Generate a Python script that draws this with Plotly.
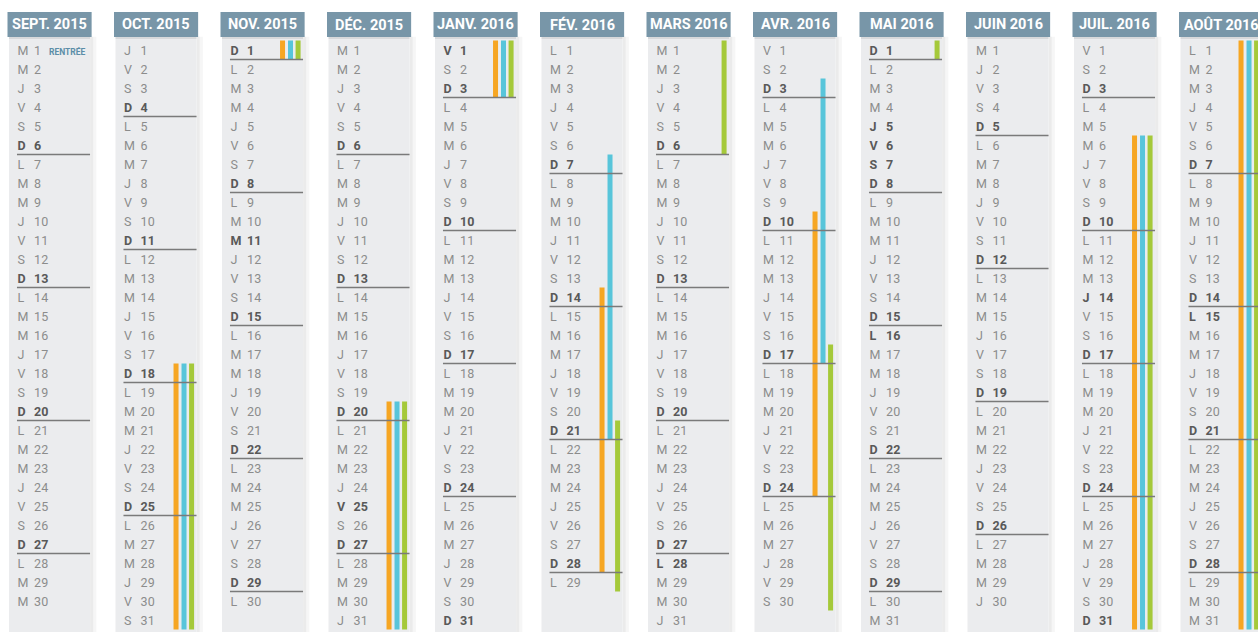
import plotly.graph_objects as go

# ---------------- data ----------------
months = ["SEPT. 2015", "OCT. 2015", "NOV. 2015", "DÉC. 2015", "JANV. 2016", "FÉV. 2016",
          "MARS 2016", "AVR. 2016", "MAI 2016", "JUIN 2016", "JUIL. 2016", "AOÛT 2016"]

weekday_letters = [
    "MMJVSDLMMJVSDLMMJVSDLMMJVSDLMM",   # sept 2015
    "JVSDLMMJVSDLMMJVSDLMMJVSDLMMJVS",  # oct
    "DLMMJVSDLMMJVSDLMMJVSDLMMJVSDL",   # nov
    "MMJVSDLMMJVSDLMMJVSDLMMJVSDLMMJ",  # dec
    "VSDLMMJVSDLMMJVSDLMMJVSDLMMJVSD",  # jan 2016
    "LMMJVSDLMMJVSDLMMJVSDLMMJVSDL",    # feb
    "MMJVSDLMMJVSDLMMJVSDLMMJVSDLMMJ",  # mar
    "VSDLMMJVSDLMMJVSDLMMJVSDLMMJVS",   # apr
    "DLMMJVSDLMMJVSDLMMJVSDLMMJVSDLM",  # may
    "MJVSDLMMJVSDLMMJVSDLMMJVSDLMMJ",   # jun
    "VSDLMMJVSDLMMJVSDLMMJVSDLMMJVSD",  # jul
    "LMMJVSDLMMJVSDLMMJVSDLMMJVSDLMM",  # aug
]

# public holidays / bridge days shown in bold (month index, day)
holidays = [(2, 11), (3, 25), (4, 1), (6, 28), (8, 5), (8, 6), (8, 7), (8, 16), (10, 14), (11, 15)]

# school holiday periods per zone: (month index, first day, last day)
zone_a = [(1, 18, 31), (2, 1, 1), (3, 20, 31), (4, 1, 3), (5, 14, 28), (7, 10, 24), (10, 6, 31), (11, 1, 31)]
zone_b = [(1, 18, 31), (2, 1, 1), (3, 20, 31), (4, 1, 3), (5, 7, 21), (7, 3, 17), (10, 6, 31), (11, 1, 31)]
zone_c = [(1, 18, 31), (2, 1, 1), (3, 20, 31), (4, 1, 3), (5, 21, 29), (6, 1, 6), (7, 17, 30), (8, 1, 1), (10, 6, 31), (11, 1, 31)]

notes = [(0, 1, "RENTRÉE")]

# ---------------- style ----------------
HEADER = "#7896a8"
PANEL = "#ebecee"
TXT = "#8c8c8c"
TXT_B = "#595959"
ORANGE = "#f6a623"
BLUE = "#58c5da"
GREEN = "#a5c93a"
FONT = "Roboto"
TEXT_DY = 0.1

fig = go.Figure()

# panels (background)
shapes = []
for i, m in enumerate(months):
    shapes.append(dict(type="rect", xref="x", yref="y", x0=i + 0.39, x1=i + 0.45, y0=0.3, y1=32,
                       fillcolor="rgba(0,0,0,0.035)", line_width=0, layer="below"))
    shapes.append(dict(type="rect", xref="x", yref="y", x0=i + 0.39, x1=i + 0.42, y0=0.3, y1=32,
                       fillcolor="rgba(0,0,0,0.045)", line_width=0, layer="below"))
    shapes.append(dict(type="rect", xref="x", yref="y", x0=i - 0.371, x1=i + 0.39, y0=0.3, y1=32,
                       fillcolor=PANEL, line_width=0, layer="below"))
    shapes.append(dict(type="rect", xref="x", yref="y", x0=i - 0.371, x1=i + 0.39, y0=0.3, y1=0.42,
                       fillcolor="rgba(0,0,0,0.08)", line_width=0, layer="below"))
    shapes.append(dict(type="rect", xref="x", yref="y", x0=i - 0.385, x1=i + 0.405, y0=-1.0, y1=0.316,
                       fillcolor=HEADER, line_width=0, layer="below"))

# vacation bars
for zone, col, off in [(zone_a, ORANGE, 0.174), (zone_b, BLUE, 0.249), (zone_c, GREEN, 0.32)]:
    fig.add_trace(go.Bar(
        x=[z[0] for z in zone],
        base=[z[1] - 0.5 for z in zone],
        y=[z[2] - z[1] + 1 for z in zone],
        width=0.047, offset=off,
        marker=dict(color=col, line_width=0),
        showlegend=False, hoverinfo="skip"))

# sunday separator lines
lx, ly = [], []
for i, letters in enumerate(weekday_letters):
    for d, l in enumerate(letters, start=1):
        if l == "D" and d < len(letters):
            lx += [i - 0.296, i + 0.39, None]
            ly += [d + 0.5, d + 0.5, None]
fig.add_trace(go.Scatter(x=lx, y=ly, mode="lines", line=dict(color="#7a7a7a", width=1.5),
                         showlegend=False, hoverinfo="skip"))

# day labels
hol = set(holidays)
for bold in (False, True):
    xs_l, xs_n, ys, ls, ns = [], [], [], [], []
    for i, letters in enumerate(weekday_letters):
        for d, l in enumerate(letters, start=1):
            b = (l == "D") or ((i, d) in hol)
            if b != bold:
                continue
            xs_l.append(i - 0.29)
            xs_n.append(i - 0.135)
            ys.append(d + TEXT_DY)
            ls.append(l)
            ns.append(str(d))
    font = dict(family=FONT, size=12.5, color=TXT_B if bold else TXT,
                weight="bold" if bold else "normal")
    fig.add_trace(go.Scatter(x=xs_l, y=ys, text=ls, mode="text", textposition="middle right",
                             textfont=font, showlegend=False, hoverinfo="skip"))
    fig.add_trace(go.Scatter(x=xs_n, y=ys, text=ns, mode="text", textposition="middle right",
                             textfont=font, showlegend=False, hoverinfo="skip"))

annotations = []
for i, m in enumerate(months):
    annotations.append(dict(x=i + 0.01, y=-0.34, xref="x", yref="y", text=m, showarrow=False,
                            font=dict(family=FONT, size=14.5, color="white", weight="bold"),
                            xanchor="center", yanchor="middle"))
for i, d, t in notes:
    annotations.append(dict(x=i - 0.01, y=d + TEXT_DY, xref="x", yref="y", text=t, showarrow=False,
                            font=dict(family=FONT, size=8.5, color="#5b8ea8", weight="bold"),
                            xanchor="left", yanchor="middle"))

fig.update_layout(
    width=1258, height=632,
    margin=dict(l=0, r=0, t=0, b=0),
    paper_bgcolor="white", plot_bgcolor="white",
    barmode="overlay",
    shapes=shapes, annotations=annotations,
    xaxis=dict(range=[-48.5 / 106.5, (1258 - 48.5) / 106.5], visible=False, fixedrange=True),
    yaxis=dict(range=[601 / 19, -31 / 19], visible=False, fixedrange=True),
)

fig.write_html("out.html", config={"displayModeBar": False, "staticPlot": True},
               post_script="document.body.style.margin='0px';document.body.style.overflow='hidden';")
